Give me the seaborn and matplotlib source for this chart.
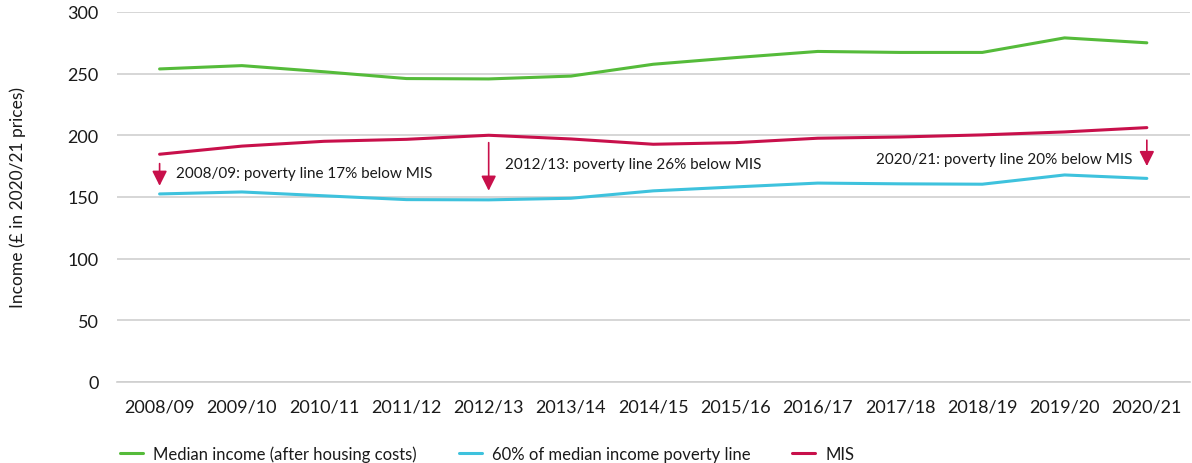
import numpy as np
import pandas as pd
import matplotlib.pyplot as plt
import seaborn as sns

# values (£ per week, 2020/21 prices)
years = ['2008/09', '2009/10', '2010/11', '2011/12', '2012/13', '2013/14', '2014/15',
         '2015/16', '2016/17', '2017/18', '2018/19', '2019/20', '2020/21']
median_income = [253.8, 256.5, 251.5, 246.0, 245.7, 248.0, 257.6,
                 263.0, 268.0, 267.2, 267.2, 279.0, 275.0]
poverty_line = [152.4, 154.0, 150.9, 147.8, 147.6, 148.9, 154.9,
                158.1, 161.2, 160.6, 160.3, 167.8, 165.0]
mis = [184.6, 191.2, 195.1, 196.7, 200.0, 197.0, 192.7,
       194.0, 197.6, 198.6, 200.3, 202.7, 206.2]

series_names = ['Median income (after housing costs)',
                '60% of median income poverty line', 'MIS']
colors = ['#55bb3a', '#3ec2dd', '#c8104b']

df = pd.DataFrame({
    'Year': years * 3,
    'Income': median_income + poverty_line + mis,
    'Series': [series_names[0]] * 13 + [series_names[1]] * 13 + [series_names[2]] * 13,
})

# annotations: (year index, arrow top, arrow bottom, text, text x offset, text y, align)
notes = [
    (0, 177, 159, '2008/09: poverty line 17% below MIS', 0.2, 169, 'left'),
    (4, 194, 155, '2012/13: poverty line 26% below MIS', 0.2, 177, 'left'),
    (12, 196, 175, '2020/21: poverty line 20% below MIS', -0.18, 181, 'right'),
]

sns.set_style('white')
plt.rcParams['font.family'] = ['Lato', 'DejaVu Sans']
text_col = '#1a1a1a'

fig, ax = plt.subplots(figsize=(11.92, 4.64), dpi=100)
fig.subplots_adjust(left=0.098, right=0.998, bottom=0.175, top=0.972)

sns.lineplot(data=df, x='Year', y='Income', hue='Series', palette=colors,
             linewidth=2.2, ax=ax, sort=False)

ax.set_ylim(0, 300)
ax.set_xlim(-0.52, 12.52)
ax.set_yticks(range(0, 301, 50))
ax.yaxis.grid(True, color='#cfcfcf', linewidth=1.2)
ax.set_axisbelow(True)
for s in ['top', 'right', 'left']:
    ax.spines[s].set_visible(False)
ax.spines['bottom'].set_color('#cfcfcf')
ax.spines['bottom'].set_linewidth(1.2)
ax.tick_params(axis='x', length=6, color='#cfcfcf', width=1, labelsize=13,
               labelcolor=text_col, pad=6)
ax.tick_params(axis='y', length=0, labelsize=13, labelcolor=text_col, pad=13)
ax.set_xlabel('')
ax.set_ylabel('Income (£ in 2020/21 prices)', fontsize=12.5, color=text_col, labelpad=30)

for i, y0, y1, txt, dx, ty, ha in notes:
    ax.annotate('', xy=(i, y1), xytext=(i, y0),
                arrowprops=dict(arrowstyle='-|>,head_length=0.9,head_width=0.45',
                                color=colors[2], linewidth=1.2, shrinkA=0, shrinkB=0,
                                mutation_scale=10))
    ax.text(i + dx, ty, txt, ha=ha, va='center', fontsize=11, color=text_col)

handles, labels = ax.get_legend_handles_labels()
ax.get_legend().remove()
fig.legend(handles, labels, loc='lower left', bbox_to_anchor=(0.088, -0.03), ncol=3,
           frameon=False, fontsize=12, handlelength=1.4, columnspacing=2.5,
           handletextpad=0.6, labelcolor=text_col)

plt.savefig('out.png', dpi=100)
